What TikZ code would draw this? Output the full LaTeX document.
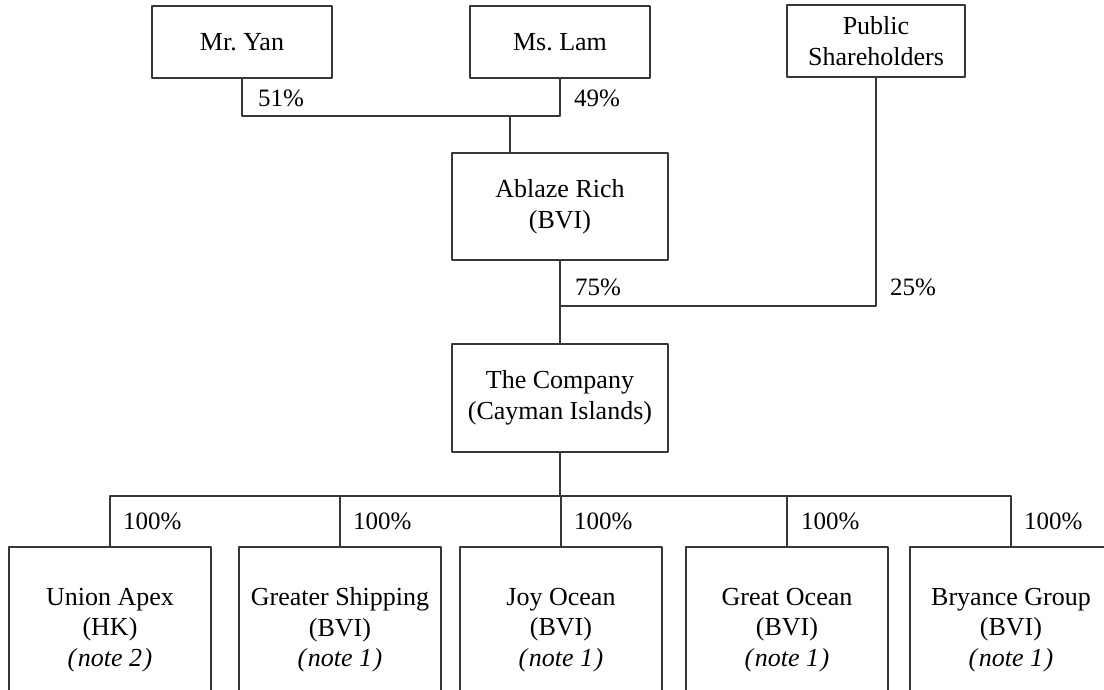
\documentclass[tikz,border=0pt]{standalone}
\usepackage{fontspec}
\setmainfont{Liberation Serif}
\definecolor{linegray}{RGB}{55,55,55}

\begin{document}
\begin{tikzpicture}[x=1pt,y=-1pt,line cap=round,line join=round]
    \path[use as bounding box] (0,0) rectangle (1104,689);
    \clip (0,0) rectangle (1104,689);

    \tikzset{
        entity/.style={draw=linegray,line width=1.1pt,inner sep=0pt,align=center,
            font=\fontsize{26}{30.5}\selectfont},
        subsid/.style={entity,minimum width=202pt,minimum height=166pt},
        pct/.style={anchor=base west,inner sep=0pt,font=\fontsize{25}{25}\selectfont},
        link/.style={draw=linegray,line width=1.1pt}
    }
    \newcommand{\notetext}[1]{\textit{(\kern1.5pt note #1\kern1.5pt)}}

    % owners
    \node[entity,minimum width=180pt,minimum height=72pt] (yan) at (242,42) {Mr.\ Yan};
    \node[entity,minimum width=180pt,minimum height=72pt] (lam) at (560,42) {Ms.\ Lam};
    \node[entity,minimum width=178pt,minimum height=72pt] (pub) at (876,41) {Public\\Shareholders};

    \node[entity,minimum width=216pt,minimum height=107pt] (ablaze) at (560,206.5) {Ablaze Rich\\(BVI)};
    \node[entity,minimum width=216pt,minimum height=108pt] (company) at (560,398) {The Company\\(Cayman Islands)};

    % subsidiaries
    \node[subsid] (union) at (110,630) {Union Apex\\(HK)\\\notetext{2}};
    \node[subsid] (greater) at (340,630) {Greater Shipping\\(BVI)\\\notetext{1}};
    \node[subsid] (joy) at (561,630) {Joy Ocean\\(BVI)\\\notetext{1}};
    \node[subsid] (great) at (787,630) {Great Ocean\\(BVI)\\\notetext{1}};
    \node[subsid] (bryance) at (1011,630) {Bryance Group\\(BVI)\\\notetext{1}};

    \coordinate (j1) at (510,116);
    \coordinate (j2) at (560,306);
    \coordinate (j3) at (560,496);

    \draw[link] (yan.south) |- (lam.south |- j1) -- (lam.south);
    \draw[link] (j1) -- (j1 |- ablaze.north);

    \draw[link] (ablaze.south) -- (company.north);
    \draw[link] (pub.south) |- (j2);

    \draw[link] (company.south) -- (j3);
    \draw[link] (union.north) |- (j3) -| (bryance.north);
    \foreach \sub in {greater,joy,great}
        \draw[link] (\sub.north) -- (\sub.north |- j3);

    \node[pct] (p51) at (258,106) {51\%};
    \node[pct] (p49) at (574,106) {49\%};
    \node[pct] (p75) at (575,295) {75\%};
    \node[pct] (p25) at (890,295) {25\%};
    \node[pct] (p100a) at (123,529) {100\%};
    \node[pct] (p100b) at (353,529) {100\%};
    \node[pct] (p100c) at (574,529) {100\%};
    \node[pct] (p100d) at (801,529) {100\%};
    \node[pct] (p100e) at (1024,529) {100\%};
\end{tikzpicture}
\end{document}
